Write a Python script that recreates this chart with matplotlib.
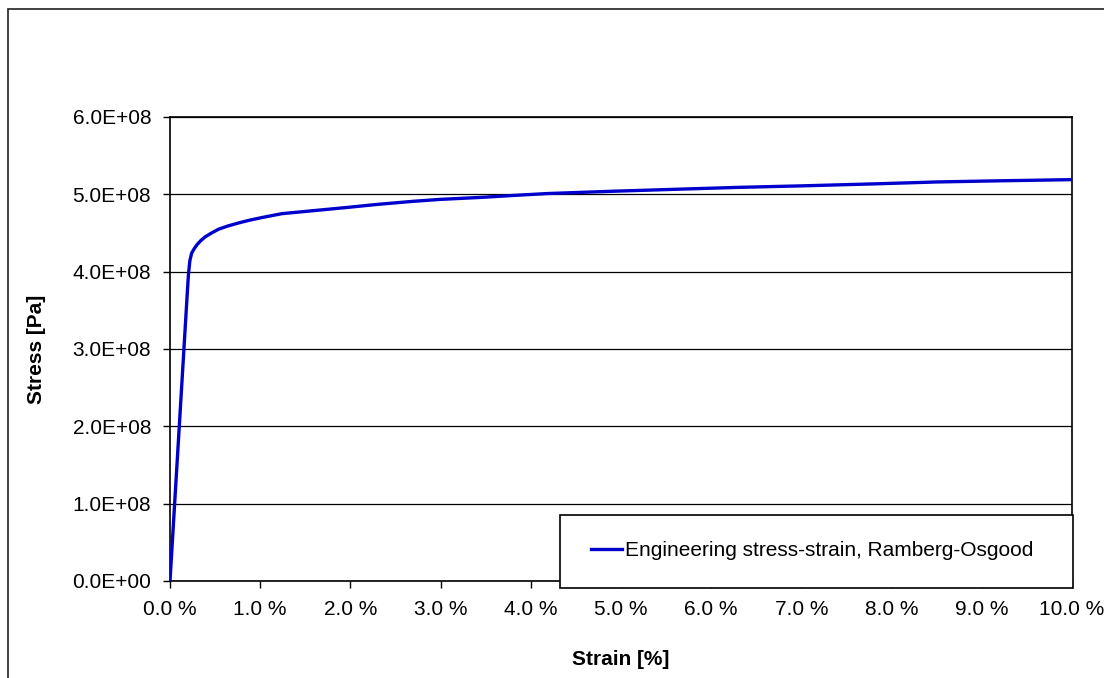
import matplotlib
matplotlib.use('Agg')
import matplotlib.pyplot as plt
from matplotlib.patches import Rectangle
from matplotlib.ticker import FuncFormatter, MultipleLocator

plt.rcParams['font.family'] = ['Liberation Sans', 'DejaVu Sans']

# values (strain in %, stress in Pa)
strain = [0.0, 0.196, 0.205, 0.22, 0.24, 0.27, 0.30, 0.34, 0.39, 0.46, 0.54, 0.64,
          0.76, 0.88, 1.02, 1.24, 1.60, 1.96, 2.30, 2.70, 3.00, 3.44, 3.80, 4.18,
          4.91, 5.60, 6.30, 7.02, 7.80, 8.50, 9.20, 10.0]
stress = [0.0, 3.81e8, 3.97e8, 4.14e8, 4.24e8, 4.30e8, 4.35e8, 4.40e8, 4.45e8, 4.50e8,
          4.55e8, 4.59e8, 4.63e8, 4.665e8, 4.70e8, 4.75e8, 4.79e8, 4.83e8, 4.87e8,
          4.91e8, 4.935e8, 4.96e8, 4.985e8, 5.01e8, 5.04e8, 5.065e8, 5.09e8, 5.11e8,
          5.135e8, 5.16e8, 5.175e8, 5.19e8]
series_name = 'Engineering stress-strain, Ramberg-Osgood'

W, H = 1104, 678
fig = plt.figure(figsize=(W / 100, H / 100), dpi=100)
ax = fig.add_axes([170 / W, 1 - 581 / H, 902 / W, 464 / H])

# outer chart border (cut off at right and bottom like the reference)
fig.patches.append(Rectangle((8 / W, -0.2), 1.3, 1 - 9 / H + 0.2, transform=fig.transFigure,
                             fill=False, edgecolor='#202020', linewidth=1.2))

line, = ax.plot(strain, stress, color='#0000CC', linewidth=2.4, zorder=3,
                solid_joinstyle='round')

ax.set_xlim(0, 10)
ax.set_ylim(0, 6e8)
ax.xaxis.set_major_locator(MultipleLocator(1))
ax.yaxis.set_major_locator(MultipleLocator(1e8))
ax.xaxis.set_major_formatter(FuncFormatter(lambda v, p: f'{v:.1f} %'))
ax.yaxis.set_major_formatter(FuncFormatter(lambda v, p: f'{v:.1E}'))
ax.tick_params(direction='out', length=5, width=1, color='black', labelsize=15, pad=8.5)
ax.grid(axis='y', color='black', linewidth=0.9)
ax.set_axisbelow(True)
for s in ax.spines.values():
    s.set_color('black')
    s.set_linewidth(1.2)

ax.set_xlabel('Strain [%]', fontsize=15, fontweight='bold')
ax.set_ylabel('Stress [Pa]', fontsize=15, fontweight='bold')
ax.xaxis.set_label_coords(0.5, (581 - 650) / 464)
ax.yaxis.set_label_coords((46 - 170) / 902, 0.5)

# legend box drawn by hand, overlapping the axes bottom
ax.add_patch(Rectangle((560 / W, 1 - 588 / H), 513 / W, 73 / H, transform=fig.transFigure,
                       facecolor='white', edgecolor='black', linewidth=1.2, zorder=5, clip_on=False))
leg = ax.legend([line], [series_name], loc='center left', frameon=False, fontsize=15,
                bbox_to_anchor=(591 / W, 1 - 551 / H), bbox_transform=fig.transFigure,
                borderpad=0, borderaxespad=0, handlelength=1.5, handletextpad=0.15)
leg.set_zorder(6)

fig.savefig('out.png', dpi=100)
